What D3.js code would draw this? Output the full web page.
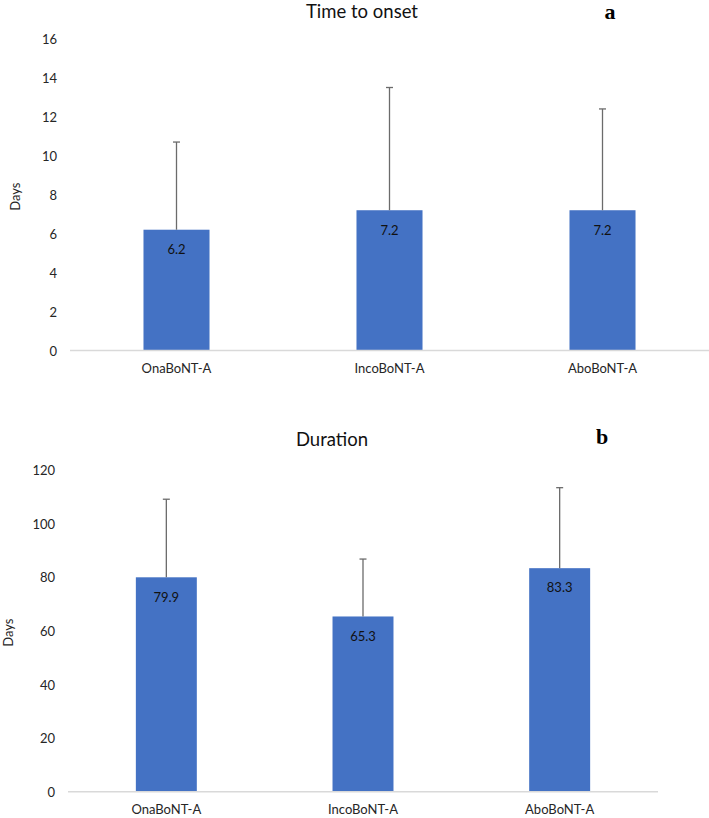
<!DOCTYPE html>
<html>
<head>
<meta charset="utf-8">
<script src="https://cdn.jsdelivr.net/npm/d3@7"></script>
<style>
  body { margin: 0; background: #fff; }
  svg { display: block; font-family: Lato, "Open Sans", sans-serif; }
</style>
</head>
<body>
<svg id="chart" width="709" height="818"></svg>
<script>
// categories shared by both panels
const categories = ["OnaBoNT-A", "IncoBoNT-A", "AboBoNT-A"];

// panel a: time to onset (days), mean and upper SD
const onsetMeans = [6.2, 7.2, 7.2];
const onsetSD = [4.5, 6.3, 5.2];
const onsetTicks = [0, 2, 4, 6, 8, 10, 12, 14, 16];

// panel b: duration (days)
const durationMeans = [79.9, 65.3, 83.3];
const durationSD = [29.1, 21.4, 30.0];
const durationTicks = [0, 20, 40, 60, 80, 100, 120];

const svg = d3.select("#chart");

function drawPanel(cfg) {
    const g = svg.append("g");

    const x = d3.scaleBand()
        .domain(categories)
        .range([cfg.left, cfg.right])
        .paddingInner(0.69)
        .paddingOuter(0.345);

    const y = d3.scaleLinear()
        .domain([0, d3.max(cfg.ticks)])
        .range([cfg.bottom, cfg.top]);

    // tick labels
    g.selectAll(".ytick")
        .data(cfg.ticks)
        .join("text")
        .attr("x", cfg.left - 13)
        .attr("y", d => y(d) + 2)
        .attr("text-anchor", "end")
        .attr("dominant-baseline", "middle")
        .attr("font-size", 13)
        .attr("fill", "#262626")
        .text(d => d);

    // bars
    const data = categories.map((c, i) => ({ c, m: cfg.means[i], sd: cfg.sd[i] }));

    g.selectAll(".bar")
        .data(data)
        .join("rect")
        .attr("x", d => x(d.c))
        .attr("y", d => y(d.m))
        .attr("width", x.bandwidth())
        .attr("height", d => y(0) - y(d.m))
        .attr("fill", "#4472C4");

    // error bars (upper only)
    g.selectAll(".err")
        .data(data)
        .join("line")
        .attr("x1", d => x(d.c) + x.bandwidth() / 2)
        .attr("x2", d => x(d.c) + x.bandwidth() / 2)
        .attr("y1", d => y(d.m))
        .attr("y2", d => y(d.m + d.sd))
        .attr("stroke", "#6b6b6b")
        .attr("stroke-width", 1.3);

    g.selectAll(".cap")
        .data(data)
        .join("line")
        .attr("x1", d => x(d.c) + x.bandwidth() / 2 - 3.5)
        .attr("x2", d => x(d.c) + x.bandwidth() / 2 + 3.5)
        .attr("y1", d => y(d.m + d.sd))
        .attr("y2", d => y(d.m + d.sd))
        .attr("stroke", "#6b6b6b")
        .attr("stroke-width", 1.3);

    // value labels inside bars
    g.selectAll(".val")
        .data(data)
        .join("text")
        .attr("x", d => x(d.c) + x.bandwidth() / 2)
        .attr("y", d => y(d.m) + 21)
        .attr("text-anchor", "middle")
        .attr("dominant-baseline", "middle")
        .attr("font-size", 13)
        .attr("fill", "#111")
        .text(d => d.m.toFixed(1));

    // x axis line
    g.append("line")
        .attr("x1", cfg.left)
        .attr("x2", cfg.right)
        .attr("y1", y(0))
        .attr("y2", y(0))
        .attr("stroke", "#d9d9d9")
        .attr("stroke-width", 1.5);

    // category labels
    g.selectAll(".cat")
        .data(categories)
        .join("text")
        .attr("x", d => x(d) + x.bandwidth() / 2)
        .attr("y", y(0) + 19)
        .attr("text-anchor", "middle")
        .attr("dominant-baseline", "middle")
        .attr("font-size", 13)
        .attr("fill", "#262626")
        .text(d => d);

    // y axis title
    g.append("text")
        .attr("transform", `translate(${cfg.ylabelX},${(cfg.top + cfg.bottom) / 2 + 2}) rotate(-90)`)
        .attr("text-anchor", "middle")
        .attr("dominant-baseline", "middle")
        .attr("font-size", 13)
        .attr("fill", "#262626")
        .text("Days");

    // chart title
    g.append("text")
        .attr("x", cfg.titleX)
        .attr("y", cfg.titleY)
        .attr("text-anchor", "middle")
        .attr("dominant-baseline", "middle")
        .attr("font-size", 18.5)
        .attr("fill", "#111")
        .text(cfg.title);

    // panel letter
    g.append("text")
        .attr("x", cfg.letterX)
        .attr("y", cfg.letterY)
        .attr("text-anchor", "middle")
        .attr("dominant-baseline", "middle")
        .attr("font-family", "'Liberation Serif', 'DejaVu Serif', serif")
        .attr("font-weight", "bold")
        .attr("font-size", 22)
        .attr("fill", "#000")
        .text(cfg.letter);
}

drawPanel({
    means: onsetMeans, sd: onsetSD, ticks: onsetTicks,
    left: 70, right: 709, top: 38.8, bottom: 350.5,
    title: "Time to onset", titleX: 362, titleY: 13.5,
    letter: "a", letterX: 610, letterY: 14,
    ylabelX: 17
});

drawPanel({
    means: durationMeans, sd: durationSD, ticks: durationTicks,
    left: 68, right: 658, top: 469.7, bottom: 791.7,
    title: "Duration", titleX: 332, titleY: 441,
    letter: "b", letterX: 602, letterY: 439,
    ylabelX: 9.5
});
</script>
</body>
</html>
